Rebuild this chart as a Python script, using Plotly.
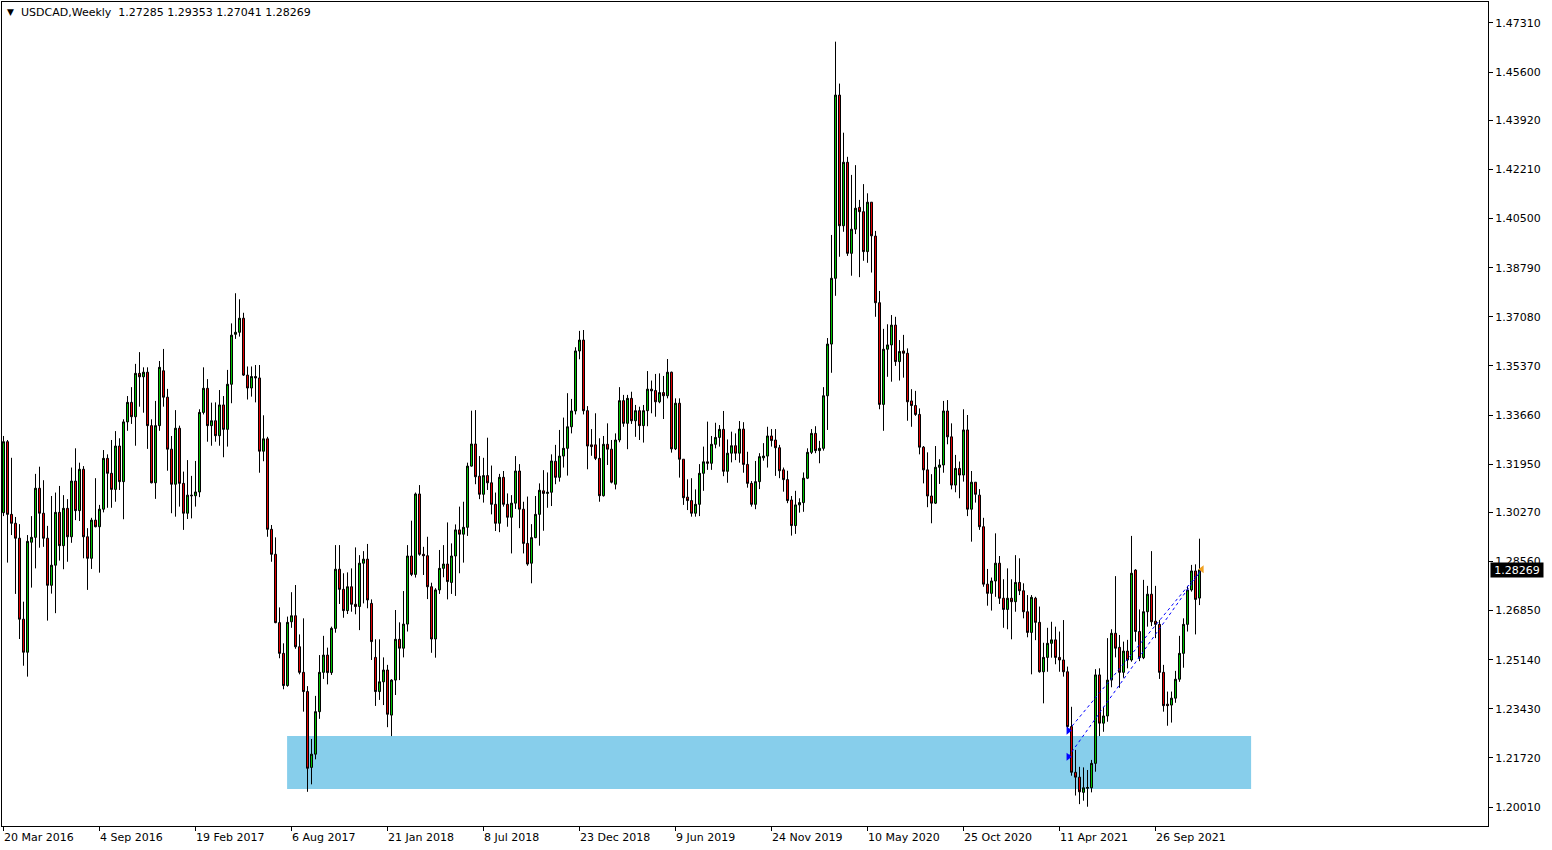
import plotly.graph_objects as go
import pandas as pd

# ---- data (weekly USDCAD) ----
dates = list(pd.date_range("2016-03-20", periods=300, freq="7D"))

open_ = [
1.3026,1.3273,1.3020,1.2989,1.2937,1.2655,1.2540,1.2923,1.2940,1.3111,
1.3024,1.2937,1.2773,1.2843,1.3027,1.2911,1.3041,1.2942,1.3136,1.3033,
1.3177,1.2942,1.2867,1.3000,1.2977,1.3038,1.3215,1.3163,1.3107,1.3258,
1.3134,1.3342,1.3410,1.3360,1.3511,1.3499,1.3515,1.3329,1.3130,1.3329,
1.3520,1.3428,1.3247,1.3125,1.3320,1.3128,1.3024,1.3087,1.3085,1.3098,
1.3375,1.3459,1.3329,1.3346,1.3294,1.3401,1.3316,1.3473,1.3647,1.3654,
1.3703,1.3505,1.3460,1.3500,1.3495,1.3240,1.3283,1.2968,1.2881,1.2643,
1.2536,1.2424,1.2646,1.2667,1.2559,1.2470,1.2403,1.2139,1.2185,1.2333,
1.2470,1.2530,1.2469,1.2623,1.2829,1.2759,1.2685,1.2768,1.2707,1.2699,
1.2850,1.2864,1.2710,1.2522,1.2403,1.2437,1.2478,1.2321,1.2443,1.2585,
1.2554,1.2638,1.2875,1.2811,1.3091,1.2881,1.2876,1.2768,1.2586,1.2757,
1.2832,1.2847,1.2783,1.2875,1.2966,1.2951,1.2975,1.3188,1.3265,1.3153,
1.3090,1.3155,1.3130,1.3055,1.2989,1.3149,1.3055,1.3010,1.3059,1.3171,
1.3038,1.2919,1.2850,1.2939,1.3020,1.3102,1.3093,1.3097,1.3205,1.3149,
1.3223,1.3250,1.3325,1.3380,1.3589,1.3627,1.3381,1.3262,1.3262,1.3215,
1.3085,1.3264,1.3247,1.3125,1.3279,1.3416,1.3337,1.3424,1.3346,1.3381,
1.3329,1.3381,1.3456,1.3451,1.3412,1.3444,1.3433,1.3515,1.3248,1.3407,
1.3212,1.3080,1.3068,1.3024,1.3055,1.3163,1.3203,1.3198,1.3264,1.3288,
1.3316,1.3170,1.3233,1.3259,1.3233,1.3317,1.3194,1.3128,1.3055,1.3134,
1.3217,1.3223,1.3293,1.3279,1.3252,1.3175,1.3141,1.3070,1.2981,1.3053,
1.3061,1.3146,1.3236,1.3302,1.3242,1.3250,1.3433,1.3613,1.3842,1.4480,
1.4025,1.4246,1.3929,1.4013,1.4089,1.4074,1.3935,1.4107,1.3989,1.3757,
1.3403,1.3595,1.3610,1.3679,1.3552,1.3589,1.3581,1.3415,1.3399,1.3368,
1.3254,1.3175,1.3084,1.3059,1.3184,1.3192,1.3380,1.3290,1.3122,1.3180,
1.3157,1.3314,1.3038,1.3132,1.3087,1.2977,1.2777,1.2745,1.2788,1.2850,
1.2728,1.2689,1.2728,1.2716,1.2783,1.2754,1.2681,1.2609,1.2728,1.2644,
1.2472,1.2522,1.2571,1.2583,1.2522,1.2513,1.2472,1.2281,1.2122,1.2105,
1.2052,1.2066,1.2068,1.2153,1.2461,1.2293,1.2318,1.2443,1.2606,1.2557,
1.2470,1.2544,1.2513,1.2826,1.2612,1.2521,1.2681,1.2742,1.2648,1.2637,
1.2470,1.2359,1.2356,1.2380,1.2446,1.2536,1.2637,1.2757,1.2823,1.27285]

high = [
1.3293,1.3279,1.3217,1.3011,1.2986,1.2716,1.2948,1.3014,1.3161,1.3186,
1.3139,1.2980,1.3084,1.3096,1.3119,1.3087,1.3073,1.3183,1.3250,1.3200,
1.3188,1.2972,1.3008,1.3146,1.3053,1.3244,1.3229,1.3279,1.3310,1.3285,
1.3351,1.3432,1.3463,1.3544,1.3585,1.3532,1.3532,1.3351,1.3415,1.3554,
1.3596,1.3457,1.3293,1.3383,1.3329,1.3169,1.3209,1.3154,1.3206,1.3386,
1.3532,1.3491,1.3409,1.3410,1.3453,1.3432,1.3523,1.3685,1.3790,1.3769,
1.3722,1.3535,1.3535,1.3540,1.3540,1.3365,1.3290,1.2983,1.2940,1.2696,
1.2571,1.2664,1.2749,1.2774,1.2602,1.2658,1.2422,1.2238,1.2388,1.2530,
1.2597,1.2556,1.2629,1.2913,1.2913,1.2815,1.2818,1.2832,1.2905,1.2878,
1.2892,1.2917,1.2724,1.2585,1.2585,1.2522,1.2496,1.2446,1.2687,1.2644,
1.2753,1.2913,1.2998,1.3096,1.3122,1.2907,1.2942,1.2782,1.2763,1.2896,
1.2913,1.2992,1.2919,1.2985,1.3047,1.3064,1.3200,1.3381,1.3383,1.3223,
1.3217,1.3287,1.3190,1.3096,1.3161,1.3171,1.3093,1.3087,1.3223,1.3195,
1.3064,1.3082,1.2986,1.3084,1.3128,1.3174,1.3166,1.3229,1.3262,1.3314,
1.3357,1.3442,1.3422,1.3602,1.3659,1.3662,1.3397,1.3317,1.3372,1.3285,
1.3293,1.3337,1.3279,1.3302,1.3463,1.3436,1.3436,1.3447,1.3401,1.3395,
1.3401,1.3519,1.3486,1.3509,1.3511,1.3502,1.3561,1.3517,1.3424,1.3424,
1.3212,1.3142,1.3146,1.3107,1.3195,1.3256,1.3343,1.3293,1.3339,1.3331,
1.3380,1.3281,1.3308,1.3302,1.3345,1.3341,1.3238,1.3136,1.3206,1.3233,
1.3268,1.3325,1.3317,1.3317,1.3262,1.3183,1.3172,1.3084,1.3102,1.3076,
1.3166,1.3250,1.3317,1.3327,1.3276,1.3463,1.3634,1.3993,1.4666,1.4520,
1.4349,1.4265,1.4202,1.4236,1.4115,1.4170,1.4138,1.4107,1.4007,1.3798,
1.3666,1.3682,1.3714,1.3708,1.3627,1.3645,1.3598,1.3456,1.3450,1.3389,
1.3258,1.3236,1.3160,1.3258,1.3212,1.3415,1.3418,1.3337,1.3227,1.3204,
1.3386,1.3366,1.3171,1.3132,1.3108,1.3008,1.2830,1.2800,1.2954,1.2875,
1.2794,1.2832,1.2794,1.2878,1.2867,1.2780,1.2739,1.2739,1.2733,1.2699,
1.2573,1.2625,1.2646,1.2629,1.2612,1.2652,1.2490,1.2350,1.2200,1.2141,
1.2139,1.2130,1.2165,1.2481,1.2484,1.2350,1.2589,1.2620,1.2805,1.2600,
1.2577,1.2583,1.2945,1.2829,1.2689,1.2792,1.2771,1.2892,1.2771,1.2652,
1.2496,1.2403,1.2403,1.2475,1.2597,1.2658,1.2771,1.2844,1.2846,1.29353]

low = [
1.3014,1.2852,1.2948,1.2743,1.2586,1.2493,1.2455,1.2765,1.2832,1.2904,
1.2907,1.2650,1.2744,1.2676,1.2859,1.2829,1.2855,1.2921,1.3000,1.2997,
1.2867,1.2757,1.2830,1.2975,1.2817,1.3027,1.3043,1.3043,1.3064,1.3105,
1.3003,1.3311,1.3335,1.3259,1.3395,1.3374,1.3248,1.3128,1.3074,1.3311,
1.3395,1.3172,1.3024,1.3012,1.3047,1.2966,1.3004,1.3006,1.3047,1.3080,
1.3368,1.3273,1.3259,1.3273,1.3259,1.3219,1.3256,1.3407,1.3631,1.3639,
1.3502,1.3420,1.3430,1.3410,1.3165,1.3205,1.2942,1.2855,1.2641,1.2519,
1.2411,1.2420,1.2625,1.2552,1.2463,1.2333,1.2054,1.2080,1.2167,1.2308,
1.2447,1.2428,1.2461,1.2608,1.2708,1.2660,1.2673,1.2681,1.2672,1.2617,
1.2710,1.2693,1.2513,1.2353,1.2374,1.2356,1.2279,1.2248,1.2391,1.2443,
1.2522,1.2612,1.2805,1.2800,1.2876,1.2809,1.2725,1.2538,1.2521,1.2743,
1.2801,1.2724,1.2743,1.2736,1.2815,1.2852,1.2945,1.3186,1.3125,1.3073,
1.3061,1.3105,1.3020,1.2962,1.2958,1.3047,1.2977,1.2884,1.3039,1.2972,
1.2884,1.2841,1.2780,1.2937,1.2911,1.2963,1.3043,1.3049,1.3125,1.3134,
1.3183,1.3155,1.3302,1.3368,1.3560,1.3368,1.3177,1.3224,1.3209,1.3064,
1.3082,1.3192,1.3128,1.3107,1.3271,1.3325,1.3247,1.3335,1.3290,1.3279,
1.3270,1.3327,1.3372,1.3360,1.3407,1.3352,1.3424,1.3235,1.3244,1.3148,
1.3053,1.3035,1.3012,1.3012,1.3014,1.3102,1.3175,1.3175,1.3250,1.3256,
1.3153,1.3130,1.3201,1.3209,1.3200,1.3165,1.3113,1.3047,1.3038,1.3108,
1.3207,1.3183,1.3256,1.3154,1.3146,1.3099,1.3059,1.2946,1.2952,1.3026,
1.3029,1.3143,1.3230,1.3233,1.3198,1.3242,1.3314,1.3513,1.3781,1.3917,
1.4004,1.3920,1.3851,1.3996,1.3846,1.3903,1.3896,1.3862,1.3708,1.3386,
1.3311,1.3499,1.3482,1.3537,1.3486,1.3496,1.3346,1.3325,1.3363,1.3229,
1.3128,1.3045,1.2989,1.3056,1.3126,1.3165,1.3264,1.3107,1.3097,1.3076,
1.3134,1.3014,1.2925,1.3061,1.2966,1.2768,1.2702,1.2685,1.2733,1.2708,
1.2625,1.2620,1.2585,1.2681,1.2739,1.2658,1.2592,1.2463,1.2582,1.2469,
1.2362,1.2472,1.2521,1.2498,1.2472,1.2455,1.2275,1.2110,1.2041,1.2011,
1.2023,1.2002,1.2052,1.2124,1.2248,1.2263,1.2298,1.2418,1.2522,1.2416,
1.2451,1.2484,1.2507,1.2577,1.2509,1.2516,1.2629,1.2631,1.2589,1.2447,
1.2333,1.2284,1.2295,1.2364,1.2437,1.2486,1.2612,1.2751,1.2602,1.27041]

close = [
1.3273,1.3020,1.2989,1.2937,1.2655,1.2540,1.2926,1.2940,1.3111,1.3024,
1.2937,1.2773,1.2843,1.3027,1.2911,1.3041,1.2942,1.3136,1.3033,1.3177,
1.2942,1.2867,1.3000,1.2977,1.3038,1.3215,1.3163,1.3107,1.3258,1.3134,
1.3342,1.3410,1.3360,1.3511,1.3499,1.3515,1.3329,1.3130,1.3329,1.3532,
1.3428,1.3247,1.3125,1.3320,1.3128,1.3024,1.3087,1.3085,1.3098,1.3375,
1.3459,1.3329,1.3346,1.3294,1.3401,1.3316,1.3473,1.3644,1.3654,1.3703,
1.3505,1.3460,1.3500,1.3495,1.3240,1.3283,1.2968,1.2881,1.2643,1.2536,
1.2424,1.2644,1.2667,1.2559,1.2470,1.2403,1.2136,1.2185,1.2333,1.2470,
1.2530,1.2469,1.2623,1.2829,1.2759,1.2685,1.2768,1.2707,1.2699,1.2850,
1.2864,1.2722,1.2577,1.2403,1.2437,1.2478,1.2324,1.2443,1.2585,1.2554,
1.2638,1.2875,1.2811,1.3091,1.2881,1.2876,1.2768,1.2586,1.2757,1.2832,
1.2847,1.2786,1.2875,1.2966,1.2951,1.2975,1.3188,1.3265,1.3151,1.3090,
1.3155,1.3130,1.3055,1.2989,1.3149,1.3055,1.3010,1.3059,1.3171,1.3038,
1.2919,1.2847,1.2939,1.3020,1.3104,1.3093,1.3097,1.3206,1.3149,1.3223,
1.3250,1.3325,1.3380,1.3589,1.3627,1.3381,1.3258,1.3256,1.3215,1.3085,
1.3264,1.3247,1.3132,1.3279,1.3416,1.3337,1.3424,1.3346,1.3381,1.3329,
1.3381,1.3456,1.3450,1.3412,1.3444,1.3433,1.3515,1.3248,1.3407,1.3212,
1.3078,1.3068,1.3024,1.3055,1.3163,1.3203,1.3198,1.3264,1.3288,1.3316,
1.3170,1.3233,1.3259,1.3233,1.3317,1.3194,1.3128,1.3055,1.3134,1.3221,
1.3223,1.3293,1.3277,1.3252,1.3172,1.3141,1.3068,1.2981,1.3053,1.3061,
1.3146,1.3236,1.3302,1.3242,1.3250,1.3433,1.3613,1.3842,1.4480,1.4025,
1.4246,1.3929,1.4013,1.4086,1.4074,1.3935,1.4107,1.3990,1.3757,1.3403,
1.3595,1.3610,1.3679,1.3552,1.3587,1.3581,1.3412,1.3399,1.3368,1.3254,
1.3175,1.3084,1.3059,1.3184,1.3192,1.3380,1.3290,1.3122,1.3180,1.3157,
1.3314,1.3038,1.3132,1.3090,1.2977,1.2777,1.2745,1.2788,1.2850,1.2728,
1.2689,1.2728,1.2716,1.2783,1.2754,1.2681,1.2609,1.2731,1.2644,1.2472,
1.2522,1.2571,1.2583,1.2522,1.2513,1.2472,1.2281,1.2122,1.2105,1.2054,
1.2068,1.2069,1.2153,1.2461,1.2293,1.2318,1.2443,1.2606,1.2554,1.2470,
1.2544,1.2513,1.2815,1.2612,1.2521,1.2681,1.2742,1.2646,1.2637,1.2470,
1.2354,1.2354,1.2380,1.2446,1.2536,1.2637,1.2757,1.2823,1.2724,1.28269]

price_ticks = [1.20010, 1.21720, 1.23430, 1.25140, 1.26850, 1.28560, 1.30270,
               1.31950, 1.33660, 1.35370, 1.37080, 1.38790, 1.40500, 1.42210,
               1.43920, 1.45600, 1.47310]
date_tick_bars = list(range(0, 300, 24))

# support zone (bar index range and price range)
zone_bars = [70.9, 311.9]
zone_prices = [1.2064, 1.2248]

# two buy trades (open bar/price -> close bar/price)
trade_open_bar = 266.2
trade_open_prices = [1.2267, 1.2176]
trade_close_bar = 299.6
trade_close_price = 1.2829

symbol = "USDCAD,Weekly"
last_ohlc = [open_[-1], high[-1], low[-1], close[-1]]

# ---- figure ----
FONT = "DejaVu Sans"
bars = list(range(len(dates)))

fig = go.Figure()
fig.add_trace(go.Candlestick(
    x=bars, open=open_, high=high, low=low, close=close,
    increasing=dict(fillcolor="#00C000", line=dict(color="black", width=1)),
    decreasing=dict(fillcolor="#E00000", line=dict(color="black", width=1)),
    whiskerwidth=0, hoverinfo="skip", showlegend=False,
))

for p in trade_open_prices:
    fig.add_trace(go.Scatter(
        x=[trade_open_bar, trade_close_bar], y=[p, trade_close_price],
        mode="lines", line=dict(color="#0000FF", width=1, dash="dot"),
        hoverinfo="skip", showlegend=False))
fig.add_trace(go.Scatter(
    x=[trade_open_bar] * len(trade_open_prices), y=trade_open_prices,
    mode="markers", marker=dict(symbol="triangle-right", size=7, color="#0000FF"),
    hoverinfo="skip", showlegend=False))
fig.add_trace(go.Scatter(
    x=[trade_close_bar], y=[trade_close_price],
    mode="markers", marker=dict(symbol="triangle-left", size=7, color="#F0A020"),
    hoverinfo="skip", showlegend=False))

fig.add_shape(type="rect", xref="x", yref="y",
              x0=zone_bars[0], x1=zone_bars[1], y0=zone_prices[0], y1=zone_prices[1],
              fillcolor="#87CEEB", line=dict(width=0), layer="below")

annotations = []
annotations.append(dict(x=0, y=1, xref="paper", yref="paper", text="▼",
                        showarrow=False, xanchor="left", yanchor="middle",
                        xshift=3, yshift=-10, font=dict(family=FONT, size=9, color="black")))
annotations.append(dict(x=0, y=1, xref="paper", yref="paper",
                        text=symbol + "  " + " ".join(f"{v:.5f}" for v in last_ohlc),
                        showarrow=False, xanchor="left", yanchor="middle",
                        xshift=17, yshift=-10, font=dict(family=FONT, size=11, color="black")))
for b in date_tick_bars:
    d = dates[b]
    annotations.append(dict(x=b, y=0, xref="x", yref="paper",
                            text=f"{d.day} {d.strftime('%b %Y')}", showarrow=False,
                            xanchor="left", yanchor="middle", xshift=-2, yshift=-11,
                            font=dict(family=FONT, size=11, color="black")))
annotations.append(dict(x=1, y=close[-1], xref="paper", yref="y",
                        text=f"{close[-1]:.5f}", showarrow=False,
                        xanchor="left", yanchor="middle", xshift=2,
                        bgcolor="black", borderpad=1, width=50, height=12,
                        font=dict(family=FONT, size=11, color="white")))

fig.update_layout(
    width=1552, height=850,
    margin=dict(l=2, r=64, t=2, b=24),
    paper_bgcolor="white", plot_bgcolor="white",
    boxgap=0.5, boxgroupgap=0,
    font=dict(family=FONT, size=11, color="black"),
    annotations=annotations,
    xaxis=dict(range=[-0.375, 371.125], showgrid=False, zeroline=False,
               showline=True, mirror=True, linecolor="black", linewidth=1,
               tickvals=date_tick_bars, ticks="outside", ticklen=4, tickcolor="black",
               showticklabels=False, rangeslider=dict(visible=False), fixedrange=True),
    yaxis=dict(range=[1.19349, 1.48041], side="right", showgrid=False, zeroline=False,
               showline=True, mirror=True, linecolor="black", linewidth=1,
               tickvals=price_ticks, ticktext=[f"{v:.5f}" for v in price_ticks],
               ticks="outside", ticklen=4, tickcolor="black",
               tickfont=dict(family=FONT, size=11, color="black"), fixedrange=True),
)

fig.write_html("out.html", config={"displayModeBar": False},
               post_script="document.body.style.margin='0';document.body.style.overflow='hidden';")
